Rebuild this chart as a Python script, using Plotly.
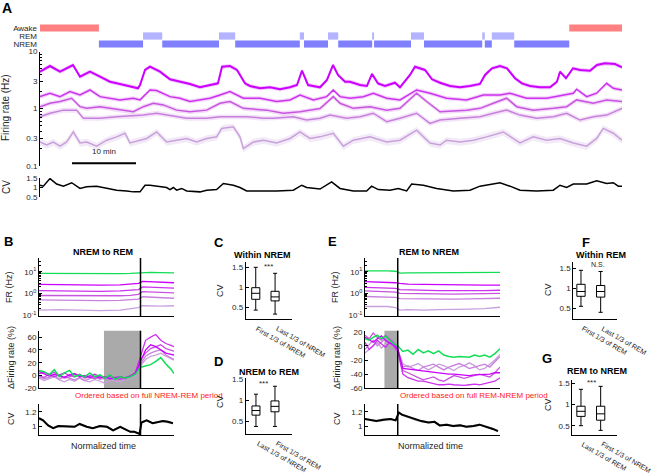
import plotly.graph_objects as go

W, H = 658, 475
FONT = 'Liberation Sans, Arial, sans-serif'

# ---------------- DATA ----------------
# hypnogram (minutes)
hyp_start = [0.0, 9.2, 16.1, 19.1, 27.97, 30.5, 40.6, 41.25, 45.0, 46.6, 51.9, 52.2, 57.97, 60.0, 69.1, 69.5, 70.6, 74.1, 82.7]
hyp_end = [9.2, 16.1, 19.1, 27.97, 30.5, 40.6, 41.25, 45.0, 46.6, 51.9, 52.2, 57.97, 60.0, 69.1, 69.5, 70.6, 74.1, 82.7, 90.94]
hyp_stage = ['Awake', 'NREM', 'REM', 'NREM', 'REM', 'NREM', 'REM', 'NREM', 'REM', 'NREM', 'REM', 'NREM',
             'REM', 'NREM', 'REM', 'NREM', 'REM', 'NREM', 'Awake']
stage_order = ['NREM', 'REM', 'Awake']

# panel A firing rates (Hz) for 5 groups
fr1_t = [0, 1.56, 3.13, 4.69, 5.16, 6.25, 7.81, 9.38, 10.94, 12.5, 14.06, 15.31, 15.63, 16.41, 17.19, 18.75, 20.31,
         21.88, 23.44, 25.0, 26.56, 27.81, 28.44, 29.69, 30.78, 32.03, 32.81, 34.38, 35.94, 37.5, 39.06, 40.16, 40.94,
         41.88, 43.75, 44.84, 45.78, 46.56, 47.66, 48.44, 50.0, 51.09, 51.88, 52.81, 53.91, 55.47, 56.25, 57.81, 58.59,
         60.16, 61.25, 62.5, 64.06, 65.63, 67.19, 68.75, 69.53, 70.63, 71.88, 72.97, 74.22, 75.31, 76.56, 78.13, 79.69,
         80.78, 81.25, 82.19, 83.28, 84.38, 85.94, 87.03, 88.28, 89.84, 90.94]
fr1_v = [4.43, 5.57, 4.43, 5.42, 5.8, 3.62, 4.43, 3.62, 2.96, 2.70, 2.49, 2.27, 2.59, 4.75, 5.42, 4.43, 3.26, 2.96,
         2.70, 2.36, 2.59, 2.77, 5.42, 5.57, 4.75, 2.77, 2.49, 2.27, 2.36, 2.18, 2.36, 2.59, 4.61, 2.59, 2.36, 3.17,
         5.80, 3.88, 2.96, 2.96, 2.59, 2.49, 4.04, 2.77, 2.49, 2.84, 2.36, 3.88, 5.42, 4.75, 3.26, 2.84, 2.49, 2.36,
         2.49, 2.70, 3.88, 5.08, 5.57, 5.08, 3.40, 2.77, 2.49, 2.36, 2.36, 2.96, 4.43, 3.40, 5.08, 4.75, 4.61, 5.80,
         6.21, 6.04, 5.30]
fr2_t = [0, 1.56, 3.13, 4.69, 6.25, 7.81, 9.38, 10.94, 12.5, 14.58, 15.63, 17.19, 18.23, 20.31, 21.88, 23.44, 25.0,
         26.56, 28.13, 29.69, 31.77, 34.38, 36.98, 39.06, 40.63, 42.71, 44.79, 45.83, 46.88, 48.44, 50.52, 52.08,
         54.17, 56.25, 58.85, 60.94, 63.54, 66.67, 69.27, 71.88, 73.44, 76.04, 79.17, 83.33, 83.85, 85.42, 86.98,
         88.54, 89.58, 90.94]
fr2_v = [1.62, 1.86, 1.62, 1.98, 1.73, 2.12, 1.62, 1.52, 1.42, 1.52, 1.42, 2.12, 2.07, 1.62, 1.52, 1.33, 1.42, 1.52,
         1.73, 1.98, 1.52, 1.52, 1.33, 1.42, 1.73, 1.42, 1.62, 2.12, 1.62, 1.52, 1.62, 1.86, 1.52, 1.42, 2.12, 1.86,
         1.52, 1.42, 1.73, 1.73, 1.86, 1.52, 1.52, 1.86, 2.18, 1.62, 1.86, 2.77, 2.27, 2.12]
fr3_t = [0, 1.56, 3.13, 4.95, 6.25, 7.29, 9.38, 12.5, 14.58, 16.15, 17.71, 19.27, 21.35, 23.44, 26.04, 28.13, 29.69,
         31.77, 35.42, 38.02, 40.63, 43.75, 45.83, 46.88, 48.96, 51.56, 54.17, 56.25, 58.85, 60.42, 62.5, 66.67,
         68.75, 70.83, 72.92, 74.48, 77.08, 80.21, 82.29, 83.85, 86.46, 88.54, 90.94]
fr3_v = [1.08, 1.24, 1.33, 1.52, 1.08, 1.01, 1.08, 0.94, 0.88, 1.08, 1.24, 1.16, 0.94, 0.88, 0.94, 1.24, 1.33, 1.01,
         0.94, 0.83, 0.88, 1.0, 1.62, 1.24, 1.01, 1.08, 0.94, 1.01, 1.86, 1.33, 0.88, 0.94, 1.01, 1.24, 1.52, 1.08,
         0.94, 1.01, 1.08, 1.42, 1.24, 1.42, 1.33]
fr4_t = [0, 1.56, 3.65, 5.73, 6.77, 9.38, 11.98, 14.58, 16.15, 18.23, 20.31, 22.92, 26.04, 28.13, 30.21, 32.29, 34.9,
         36.46, 39.58, 41.67, 43.75, 45.31, 47.92, 50.0, 52.08, 54.17, 56.25, 58.85, 60.94, 62.5, 65.63, 68.75,
         70.83, 72.92, 75.0, 77.6, 80.21, 82.29, 84.38, 86.46, 88.54, 90.94]
fr4_v = [0.72, 0.83, 0.94, 0.94, 0.68, 0.68, 0.72, 0.74, 0.77, 0.83, 0.77, 0.68, 0.68, 0.72, 0.72, 0.72, 0.68, 0.68,
         0.72, 0.63, 0.68, 0.77, 0.68, 0.72, 0.83, 0.59, 0.68, 0.83, 0.55, 0.63, 0.68, 0.72, 0.83, 0.94, 0.77, 0.68,
         0.72, 0.83, 0.63, 0.72, 0.77, 1.01]
fr5_t = [0, 1.04, 2.08, 3.13, 4.17, 5.21, 6.25, 7.29, 8.85, 10.42, 11.98, 13.28, 14.06, 15.63, 16.67, 18.23, 19.79,
         21.35, 22.92, 24.48, 26.04, 27.6, 28.39, 30.21, 31.25, 31.77, 33.33, 34.9, 36.98, 39.06, 40.63, 42.19, 43.75,
         45.83, 47.4, 48.96, 51.56, 54.17, 56.25, 58.85, 60.94, 62.5, 63.54, 65.63, 67.71, 69.79, 72.4, 75.0, 77.08,
         79.17, 81.25, 83.33, 85.42, 86.98, 88.02, 89.58, 90.94]
fr5_v = [0.26, 0.23, 0.26, 0.22, 0.26, 0.39, 0.25, 0.26, 0.22, 0.28, 0.32, 0.37, 0.25, 0.28, 0.30, 0.39, 0.26, 0.28,
         0.30, 0.26, 0.30, 0.32, 0.45, 0.48, 0.32, 0.20, 0.26, 0.28, 0.25, 0.30, 0.39, 0.30, 0.32, 0.37, 0.22, 0.28,
         0.32, 0.26, 0.28, 0.42, 0.25, 0.23, 0.28, 0.26, 0.28, 0.32, 0.39, 0.25, 0.32, 0.28, 0.30, 0.25, 0.22, 0.30,
         0.45, 0.37, 0.28]
fr_sem_frac = [0.08, 0.08, 0.09, 0.10, 0.14]

# panel A CV
cv_t = [0, 0.52, 1.56, 2.6, 3.65, 4.95, 6.25, 7.29, 8.85, 10.42, 11.98, 13.54, 14.58, 15.63, 16.41, 17.19, 18.75,
        19.79, 20.31, 20.83, 21.35, 22.14, 22.92, 25.0, 26.04, 27.6, 28.65, 30.21, 31.25, 32.29, 34.38, 36.98, 39.58,
        40.89, 41.67, 43.75, 45.57, 46.88, 48.96, 51.04, 51.82, 52.86, 54.69, 55.99, 57.29, 58.07, 59.9, 61.98,
        64.58, 67.19, 68.75, 70.83, 71.88, 73.44, 75.0, 77.6, 80.21, 81.25, 82.29, 83.33, 85.42, 86.98, 88.54,
        89.58, 90.36, 90.94]
cv_v = [1.12, 1.07, 1.47, 1.18, 1.07, 1.25, 0.95, 1.04, 1.07, 0.95, 0.86, 0.82, 0.77, 0.77, 1.12, 1.12, 1.07, 1.0,
        0.89, 1.0, 0.86, 0.95, 0.82, 0.77, 0.86, 0.89, 1.21, 1.12, 1.0, 0.82, 0.82, 0.82, 0.86, 1.12, 1.0, 0.92,
        1.30, 0.95, 0.82, 0.82, 1.07, 0.89, 0.86, 0.95, 0.82, 1.18, 1.12, 0.95, 0.82, 0.86, 1.07, 1.21, 1.25, 1.07,
        0.86, 0.82, 0.86, 1.12, 1.0, 1.18, 1.18, 1.35, 1.21, 1.25, 1.07, 1.07]

# panel B (NREM -> REM), normalized time, 0 = transition
bfr_t = [-1.0, -0.8, -0.6, -0.4, -0.2, -0.1, -0.02, 0.02, 0.1, 0.2, 0.33]
bfr_green = [8.4, 8.2, 8.0, 8.0, 8.1, 8.3, 8.8, 9.4, 9.3, 9.0, 8.8]
bfr_m1 = [2.6, 2.5, 2.4, 2.4, 2.45, 2.6, 2.9, 3.6, 3.5, 3.3, 3.1]
bfr_m2 = [1.35, 1.3, 1.25, 1.25, 1.3, 1.35, 1.5, 2.0, 1.95, 1.85, 1.75]
bfr_m3 = [0.8, 0.78, 0.76, 0.76, 0.78, 0.82, 0.9, 1.2, 1.15, 1.1, 1.05]
bfr_m4 = [0.5, 0.48, 0.47, 0.47, 0.48, 0.5, 0.55, 0.7, 0.66, 0.62, 0.6]
bfr_m5 = [0.17, 0.18, 0.17, 0.16, 0.17, 0.19, 0.22, 0.27, 0.26, 0.26, 0.27]

bd_t = [-1.0, -0.95, -0.9, -0.85, -0.8, -0.75, -0.7, -0.65, -0.6, -0.55, -0.5, -0.45, -0.4, -0.35, -0.3, -0.25,
        -0.2, -0.15, -0.1, -0.05, 0.0, 0.05, 0.1, 0.15, 0.2, 0.25, 0.3, 0.33]
bd_green = [8, 6, 1, 9, -2, 4, 8, -2, 1, -2, 4, -2, 1, -4, 1, -6, -2, -4, -2, 2, 13, 15, 17, 22, 28, 18, 10, 3]
bd_m1 = [6, 3, -1, 2, 0, -3, 1, 3, -2, 0, -3, -1, -4, -2, -5, -3, -2, -4, -1, 3, 22, 40, 48, 45, 40, 35, 33, 32]
bd_m2 = [3, 5, 2, -2, 1, 4, 0, -2, 2, -3, 0, 2, -2, -4, -1, -4, -6, -3, -2, 5, 30, 55, 60, 64, 55, 50, 47, 45]
bd_m3 = [0, -3, 2, 5, -1, -4, -2, 3, 0, -4, -2, -5, -1, -3, -6, -4, -2, -5, 0, 4, 25, 35, 42, 45, 48, 42, 40, 38]
bd_m4 = [-2, -5, -3, 0, -6, -2, -4, -7, -3, -8, -5, -2, -6, -4, -3, -7, -5, -3, -2, 2, 18, 30, 35, 38, 40, 32, 28, 25]
bd_m5 = [-4, -8, -5, -2, -7, -10, -6, -9, -4, -8, -10, -6, -9, -12, -7, -8, -10, -6, -4, 0, 15, 25, 30, 32, 35, 30,
         27, 24]
b_gray = [-0.36, 0.0]

bcv_t = [-1.0, -0.96, -0.91, -0.86, -0.81, -0.73, -0.65, -0.6, -0.53, -0.47, -0.4, -0.33, -0.27, -0.2, -0.15, -0.1,
         -0.06, -0.01, 0.01, 0.06, 0.12, 0.17, 0.22, 0.27, 0.32]
bcv_v = [1.11, 1.08, 1.01, 0.97, 1.0, 1.0, 0.99, 1.03, 0.99, 0.97, 1.0, 0.99, 0.94, 0.99, 0.95, 0.92, 0.92, 0.89,
         1.05, 1.08, 1.04, 1.06, 1.07, 1.06, 1.04]

# panel E (REM -> NREM)
efr_t = [-0.32, -0.2, -0.1, -0.02, 0.02, 0.1, 0.25, 0.4, 0.55, 0.7, 0.85, 1.0]
efr_green = [11.0, 11.2, 10.8, 10.5, 8.6, 8.8, 8.9, 9.0, 9.0, 9.0, 9.0, 9.2]
efr_m1 = [3.5, 3.4, 3.3, 3.1, 2.9, 2.7, 2.6, 2.5, 2.45, 2.4, 2.4, 2.4]
efr_m2 = [1.9, 1.85, 1.8, 1.7, 1.5, 1.45, 1.4, 1.35, 1.35, 1.33, 1.35, 1.4]
efr_m3 = [1.3, 1.25, 1.2, 1.15, 1.0, 0.98, 0.95, 0.95, 0.93, 0.95, 0.95, 1.0]
efr_m4 = [0.72, 0.7, 0.7, 0.66, 0.58, 0.57, 0.56, 0.56, 0.55, 0.56, 0.57, 0.6]
efr_m5 = [0.25, 0.26, 0.25, 0.22, 0.17, 0.18, 0.17, 0.18, 0.18, 0.19, 0.2, 0.23]

ed_t = [-0.32, -0.28, -0.24, -0.2, -0.16, -0.12, -0.08, -0.04, 0.0, 0.05, 0.1, 0.15, 0.2, 0.25, 0.3, 0.35, 0.4,
        0.45, 0.5, 0.55, 0.6, 0.65, 0.7, 0.75, 0.8, 0.85, 0.9, 0.95, 1.0]
ed_green = [10, 8, 12, 15, 10, 14, 8, 3, 0, -8, -6, -12, -5, -10, -7, -11, -7, -13, -15, -16, -15, -16, -16, -13,
            -15, -13, -16, -11, -4]
ed_m1 = [12, 8, 5, 10, 14, 8, 4, 2, -5, -32, -33, -34, -35, -35, -36, -37, -38, -39, -40, -40, -41, -42, -42, -41,
         -41, -40, -40, -38, -38]
ed_m2 = [5, -5, 0, 8, 3, -2, 5, 0, -8, -40, -45, -48, -50, -50, -52, -53, -55, -55, -54, -55, -56, -56, -55, -54,
         -55, -53, -52, -50, -45]
ed_m3 = [15, 10, 18, 12, 8, 15, 10, 5, -3, -35, -38, -42, -45, -48, -46, -44, -48, -50, -46, -42, -44, -46, -44, -42,
         -40, -42, -44, -38, -30]
ed_m4 = [-5, 2, 8, 0, 5, 10, 3, -2, -6, -30, -28, -32, -35, -30, -28, -26, -30, -34, -30, -28, -25, -28, -32, -30,
         -28, -26, -30, -22, -15]
ed_m5 = [-10, -5, 0, 5, -3, 2, 6, 0, -5, -25, -30, -28, -25, -30, -34, -30, -26, -28, -32, -35, -30, -28, -24, -28,
         -34, -32, -26, -20, -12]
e_gray = [-0.13, 0.0]

ecv_t = [-0.32, -0.27, -0.21, -0.14, -0.07, -0.02, 0.01, 0.04, 0.1, 0.17, 0.23, 0.3, 0.36, 0.41, 0.48, 0.54, 0.61,
         0.67, 0.74, 0.8, 0.87, 0.93, 0.98]
ecv_v = [1.10, 1.09, 1.07, 1.09, 1.10, 1.08, 1.19, 1.16, 1.13, 1.09, 1.07, 1.05, 1.06, 1.01, 1.02, 1.0, 1.01, 0.99,
         1.0, 1.02, 0.99, 0.96, 0.93]
cv_sem = 0.015

# box plots (whisker low, q1, median, q3, whisker high)
c_labels = ['First 1/3 of NREM', 'Last 1/3 of NREM']
c_lo, c_q1, c_med, c_q3, c_hi = [0.43, 0.33], [0.70, 0.66], [0.85, 0.76], [0.99, 0.90], [1.50, 1.35]
d_labels = ['Last 1/3 of NREM', 'First 1/3 of REM']
d_lo, d_q1, d_med, d_q3, d_hi = [0.37, 0.37], [0.64, 0.72], [0.75, 0.85], [0.86, 0.98], [1.14, 1.33]
f_labels = ['First 1/3 of REM', 'Last 1/3 of REM']
f_lo, f_q1, f_med, f_q3, f_hi = [0.55, 0.40], [0.80, 0.78], [0.92, 0.92], [1.10, 1.07], [1.45, 1.42]
g_labels = ['Last 1/3 of REM', 'First 1/3 of NREM']
g_lo, g_q1, g_med, g_q3, g_hi = [0.50, 0.39], [0.72, 0.63], [0.84, 0.78], [0.96, 0.96], [1.36, 1.43]

# ---------------- STYLE ----------------
mag_colors = ['#cc00ff', '#cc33ee', '#c855e0', '#c880dd', '#c8a0dc']
green = '#11dd55'
stage_colors = {'Awake': '#ff8080', 'REM': '#b3b3ff', 'NREM': '#8080ff'}

fig = go.Figure()


def rgba(hexc, a):
    h = hexc.lstrip('#')
    return 'rgba(%d,%d,%d,%s)' % (int(h[0:2], 16), int(h[2:4], 16), int(h[4:6], 16), a)


def ref(n):
    return ('x' if n == 1 else 'x%d' % n), ('y' if n == 1 else 'y%d' % n)


def line(n, x, y, color, width=1.3):
    xr, yr = ref(n)
    fig.add_trace(go.Scatter(x=x, y=y, mode='lines', line=dict(color=color, width=width),
                             xaxis=xr, yaxis=yr, showlegend=False, hoverinfo='skip'))


def band(n, x, lo, hi, color):
    xr, yr = ref(n)
    fig.add_trace(go.Scatter(x=list(x) + list(x)[::-1], y=list(hi) + list(lo)[::-1], mode='lines',
                             fill='toself', fillcolor=color, line=dict(width=0),
                             xaxis=xr, yaxis=yr, showlegend=False, hoverinfo='skip'))


layout = dict(width=W, height=H, margin=dict(l=0, r=0, t=0, b=0, pad=0, autoexpand=False), paper_bgcolor='white',
              plot_bgcolor='white', showlegend=False, barmode='overlay',
              font=dict(family=FONT, size=8, color='#262626'), shapes=[], annotations=[])


def xdom(a, b):
    return [a / W, b / W]


def ydom(a, b):
    return [1 - b / H, 1 - a / H]


def set_axes(n, xd, yd, xa, ya):
    xk = 'xaxis' if n == 1 else 'xaxis%d' % n
    yk = 'yaxis' if n == 1 else 'yaxis%d' % n
    xr, yr = ref(n)
    base = dict(showgrid=False, zeroline=False, linecolor='black', linewidth=1, tickcolor='black',
                ticklen=3, ticks='inside', showline=True, automargin=False,
                tickfont=dict(size=8, color='#262626', family=FONT))
    dx = dict(base); dx.update(domain=xd, anchor=yr); dx.update(xa)
    dy = dict(base); dy.update(domain=yd, anchor=xr); dy.update(ya)
    layout[xk] = dx
    layout[yk] = dy


def ann(text, x, y, size=9, bold=False, color='#262626', angle=0, xanchor='center', yanchor='middle'):
    layout['annotations'].append(dict(text=('<b>%s</b>' % text) if bold else text, x=x / W, y=1 - y / H,
                                      xref='paper', yref='paper', showarrow=False, textangle=angle,
                                      font=dict(size=size, color=color, family=FONT),
                                      xanchor=xanchor, yanchor=yanchor))


minor_log = [0.2, 0.3, 0.4, 0.5, 0.6, 0.7, 0.8, 0.9, 2, 3, 4, 5, 6, 7, 8, 9, 20, 30, 40]
bottom_x = dict(ticks='', showticklabels=False)

# ---- hypnogram (1)
fig.add_trace(go.Bar(orientation='h', y=hyp_stage, base=hyp_start,
                     x=[e - s for s, e in zip(hyp_start, hyp_end)],
                     marker=dict(color=[stage_colors[s] for s in hyp_stage], line=dict(width=0)),
                     width=0.9, xaxis='x', yaxis='y', showlegend=False, hoverinfo='skip'))
set_axes(1, xdom(40, 622), ydom(24, 48), dict(visible=False, range=[0, 90.94]),
         dict(type='category', categoryorder='array', categoryarray=stage_order, range=[-0.5, 2.5],
              tickmode='array', tickvals=stage_order, ticktext=stage_order,
              showline=False, ticks='', ticklabelstandoff=2))

# ---- A firing rate (2)
fr_sets = [(fr5_t, fr5_v, 4), (fr4_t, fr4_v, 3), (fr3_t, fr3_v, 2), (fr2_t, fr2_v, 1), (fr1_t, fr1_v, 0)]
for t, v, i in fr_sets:
    f = fr_sem_frac[i]
    band(2, t, [a * (1 - f) for a in v], [a * (1 + f) for a in v], rgba(mag_colors[i], 0.22))
for t, v, i in fr_sets:
    line(2, t, v, mag_colors[i], 2.0 if i == 0 else 1.5)
set_axes(2, xdom(40, 622), ydom(51.5, 165.7), dict(visible=False, range=[0, 90.94]),
         dict(type='log', range=[-1, 1], tickvals=[0.1, 0.3, 1, 3, 10], ticktext=['0.1', '0.3', '1', '3', '10'],
              minor=dict(ticks='inside', ticklen=2, tickcolor='black',
                         tickvals=[0.2, 0.4, 0.5, 0.6, 0.7, 0.8, 0.9, 2, 4, 5, 6, 7, 8, 9])))
layout['shapes'].append(dict(type='line', xref='x2', yref='y2 domain', x0=5, x1=15, y0=0.021, y1=0.021,
                             line=dict(color='black', width=2)))
layout['annotations'].append(dict(text='10 min', x=10, y=0.065, xref='x2', yref='y2 domain', showarrow=False,
                                  font=dict(size=8, color='#262626', family=FONT)))

# ---- A CV (3)
line(3, cv_t, cv_v, 'black', 1.5)
set_axes(3, xdom(40, 622), ydom(178, 197), dict(visible=False, range=[0, 90.94]),
         dict(range=[0.5, 1.5], tickvals=[0.5, 1, 1.5], ticktext=['0.5', '1', '1.5']))


# ---- B / E panels
def transition_panel(nfr, nd, ncv, xd, xr, fr_t, fr_g, fr_ms, d_t, d_g, d_ms, gray, cvt, cvv, drange, dticks):
    for i in range(4, -1, -1):
        line(nfr, fr_t, fr_ms[i], mag_colors[i], 1.3)
    line(nfr, fr_t, fr_g, green, 1.3)
    for i in range(4, -1, -1):
        line(nd, d_t, d_ms[i], mag_colors[i], 1.3)
    line(nd, d_t, d_g, green, 1.5)
    band(ncv, cvt, [c - cv_sem for c in cvv], [c + cv_sem for c in cvv], 'rgba(0,0,0,0.3)')
    line(ncv, cvt, cvv, 'black', 2)
    set_axes(nfr, xd, ydom(258, 316), dict(range=xr, **bottom_x),
             dict(type='log', range=[-1.04, 1.63], tickvals=[0.1, 1, 10],
                  ticktext=['10<sup>-1</sup>', '10<sup>0</sup>', '10<sup>1</sup>'],
                  minor=dict(ticks='inside', ticklen=2, tickcolor='black', tickvals=minor_log)))
    set_axes(nd, xd, ydom(330.7, 388.3), dict(range=xr, **bottom_x),
             dict(range=drange, tickvals=dticks, ticktext=[str(v) for v in dticks]))
    set_axes(ncv, xd, ydom(404, 435), dict(range=xr, **bottom_x),
             dict(range=[0.875, 1.31], tickvals=[1, 1.2], ticktext=['1', '1.2']))
    layout['shapes'].append(dict(type='rect', xref='x%d' % nd, yref='y%d domain' % nd, x0=gray[0], x1=gray[1],
                                 y0=0, y1=1, fillcolor='#aaaaaa', line=dict(width=0), layer='below'))
    for n in (nfr, nd, ncv):
        layout['shapes'].append(dict(type='line', xref='x%d' % n, yref='y%d domain' % n, x0=0, x1=0, y0=0, y1=1,
                                     line=dict(color='black', width=1.5)))


transition_panel(4, 5, 6, xdom(39, 174), [-1, 0.33], bfr_t, bfr_green,
                 [bfr_m1, bfr_m2, bfr_m3, bfr_m4, bfr_m5], bd_t, bd_green, [bd_m1, bd_m2, bd_m3, bd_m4, bd_m5],
                 b_gray, bcv_t, bcv_v, [-20, 70], [-20, 0, 20, 40, 60])
transition_panel(7, 8, 9, xdom(365, 500), [-0.32, 1.0], efr_t, efr_green,
                 [efr_m1, efr_m2, efr_m3, efr_m4, efr_m5], ed_t, ed_green, [ed_m1, ed_m2, ed_m3, ed_m4, ed_m5],
                 e_gray, ecv_t, ecv_v, [-60, 21.4], [-60, -40, -20, 0, 20])


# ---- box panels
def box_panel(n, xd, yd, xr, yr, labels, lo, q1, med, q3, hi):
    xa, ya = ref(n)
    fig.add_trace(go.Box(x=[0, 1], lowerfence=lo, q1=q1, median=med, q3=q3, upperfence=hi, orientation='v',
                         width=0.42, whiskerwidth=0.5, fillcolor='white', line=dict(color='black', width=1),
                         boxpoints=False, xaxis=xa, yaxis=ya, showlegend=False, hoverinfo='skip'))
    set_axes(n, xd, yd, dict(range=xr, tickvals=[0, 1], showticklabels=False, ticks=''),
             dict(range=yr, tickvals=[0.5, 1, 1.5], ticktext=['0.5', '1', '1.5']))
    for pos, lab in zip([0, 1], labels):
        layout['annotations'].append(dict(text=lab, x=pos, xref=xa, xshift=-3, y=0, yref='%s domain' % ya,
                                          yshift=-3, xanchor='left', yanchor='top', textangle=30,
                                          showarrow=False, font=dict(size=7, color='#262626', family=FONT)))


box_panel(10, xdom(245.7, 291.7), ydom(261.7, 319.3), [-0.52, 1.86], [0.2, 1.64], c_labels,
          c_lo, c_q1, c_med, c_q3, c_hi)
box_panel(11, xdom(245.7, 291.7), ydom(378.3, 434), [-0.54, 1.88], [0.19, 1.52], d_labels,
          d_lo, d_q1, d_med, d_q3, d_hi)
box_panel(12, xdom(573.3, 617), ydom(261.7, 319.3), [-0.39, 1.83], [0.225, 1.665], f_labels,
          f_lo, f_q1, f_med, f_q3, f_hi)
box_panel(13, xdom(572.3, 617), ydom(380, 435), [-0.44, 1.83], [0.28, 1.58], g_labels,
          g_lo, g_q1, g_med, g_q3, g_hi)

# ---- text
ann('A', 7, 8, 14, True, 'black')
ann('B', 8, 241, 13, True, 'black')
ann('C', 219, 242, 13, True, 'black')
ann('D', 218, 361, 13, True, 'black')
ann('E', 332, 241, 13, True, 'black')
ann('F', 586, 242, 13, True, 'black')
ann('G', 547, 358, 13, True, 'black')

ann('Firing rate (Hz)', 6, 108, 10, angle=-90)
ann('CV', 6, 187, 10, angle=-90)

ann('NREM to REM', 103, 252, 9, True, 'black')
ann('REM to NREM', 429, 252, 9, True, 'black')
for xx in (9, 335):
    ann('FR (Hz)', xx, 287, 9, angle=-90)
    ann('ΔFiring rate (%)', xx + 2, 358, 9, angle=-90)
    ann('CV', xx + 2, 419, 9, angle=-90)
ann('Ordered based on full NREM-REM period', 73, 395, 8, color='#ff2020', xanchor='left')
ann('Ordered based on full REM-NREM period', 398, 395, 8, color='#ff2020', xanchor='left')
ann('Normalized time', 103, 446, 9)
ann('Normalized time', 430, 446, 9)

ann('Within NREM', 262, 255, 9, True, 'black')
ann('***', 268, 266.5, 8)
ann('CV', 220, 291, 9, angle=-90)
ann('NREM to REM', 269, 371.5, 9, True, 'black')
ann('***', 263, 383, 8)
ann('CV', 220, 402, 9, angle=-90)
ann('Within REM', 601, 255, 9, True, 'black')
ann('N.S.', 598, 264, 7)
ann('CV', 548, 290, 9, angle=-90)
ann('REM to NREM', 597, 371, 9, True, 'black')
ann('***', 591, 382.5, 8)
ann('CV', 548, 405, 9, angle=-90)

fig.update_layout(**layout)
fig.write_html('out.html', config={'displayModeBar': False, 'staticPlot': True},
               post_script="document.body.style.margin='0px';document.body.style.padding='0px';")
